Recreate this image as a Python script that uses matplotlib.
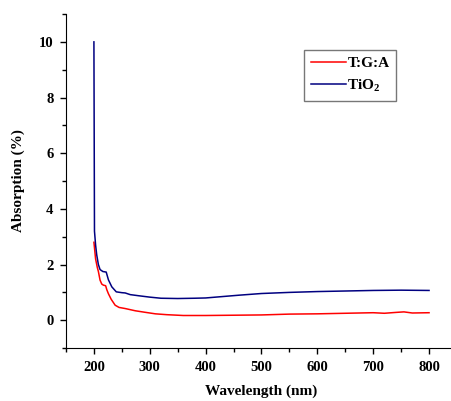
import matplotlib
matplotlib.use("Agg")
import matplotlib.pyplot as plt
from matplotlib.ticker import MultipleLocator

plt.rcParams["font.family"] = ["Liberation Serif", "DejaVu Serif"]
plt.rcParams["font.weight"] = "bold"
plt.rcParams["mathtext.fontset"] = "custom"
plt.rcParams["mathtext.rm"] = "Liberation Serif:bold"
plt.rcParams["mathtext.bf"] = "Liberation Serif:bold"

# 吸收光谱数据
wl_tio2 = [200, 201, 203, 205, 208, 211, 216, 222, 226, 232, 240, 250, 256, 265,
           280, 300, 320, 350, 380, 400, 430, 460, 500, 550, 600, 650, 700, 750, 800]
ab_tio2 = [10.0, 3.2, 2.7, 2.35, 2.0, 1.82, 1.75, 1.73, 1.45, 1.2, 1.02, 0.99, 0.98, 0.92,
           0.88, 0.83, 0.79, 0.78, 0.79, 0.80, 0.85, 0.90, 0.96, 1.0, 1.03, 1.05, 1.07, 1.08, 1.07]

wl_tga = [200, 203, 206, 208, 211, 214, 217, 221, 223, 226, 231, 238, 245, 256, 265, 274,
          290, 310, 330, 360, 400, 450, 500, 550, 600, 650, 700, 720, 740, 755, 770, 800]
ab_tga = [2.8, 2.2, 1.9, 1.75, 1.44, 1.3, 1.26, 1.24, 1.1, 0.95, 0.75, 0.54, 0.46, 0.42, 0.38, 0.34,
          0.29, 0.23, 0.2, 0.17, 0.17, 0.18, 0.19, 0.22, 0.23, 0.25, 0.27, 0.25, 0.28, 0.30, 0.26, 0.27]

fig = plt.figure(figsize=(4.52, 4.01), dpi=100)
ax = fig.add_axes([0.146, 0.132, 0.865, 0.833])

ax.plot(wl_tga, ab_tga, color="#ff0000", lw=1.1, label="T:G:A")
ax.plot(wl_tio2, ab_tio2, color="#000080", lw=1.1, label="TiO$_\\mathrm{2}$")

ax.set_xlim(150, 850)
ax.set_ylim(-1, 11)
ax.xaxis.set_major_locator(MultipleLocator(100))
ax.xaxis.set_minor_locator(MultipleLocator(50))
ax.yaxis.set_major_locator(MultipleLocator(2))
ax.yaxis.set_minor_locator(MultipleLocator(1))
ax.spines["top"].set_visible(False)
ax.spines["right"].set_visible(False)
ax.tick_params(which="major", direction="out", length=4, width=1, labelsize=10.5, pad=5)
ax.tick_params(which="minor", direction="out", length=3, width=1)
for lbl in ax.get_xticklabels() + ax.get_yticklabels():
    lbl.set_fontweight("bold")

ax.set_xlabel("Wavelength (nm)", fontsize=11, fontweight="bold", labelpad=8)
ax.set_ylabel("Absorption (%)", fontsize=11, fontweight="bold", labelpad=10)

leg = ax.legend(loc="upper right", bbox_to_anchor=(0.845, 0.893),
                prop={"weight": "bold", "size": 11}, frameon=True, fancybox=False,
                edgecolor="#555555", handlelength=2.3, handletextpad=0.1,
                borderpad=0.45, labelspacing=0.45, borderaxespad=0)
leg.get_frame().set_linewidth(1.0)

fig.savefig("out.png", dpi=100)
